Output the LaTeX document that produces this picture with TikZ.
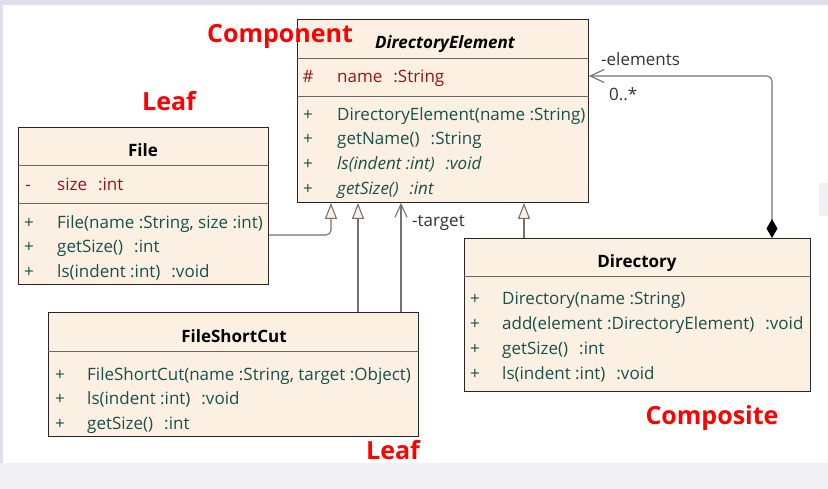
\documentclass[tikz,border=0pt]{standalone}
\usepackage{fontspec}
\setmainfont{Open Sans}
\usetikzlibrary{arrows.meta}

\definecolor{boxfill}{RGB}{251,240,226}
\definecolor{attrred}{RGB}{150,20,20}
\definecolor{methteal}{RGB}{25,80,75}
\definecolor{linegray}{RGB}{115,115,115}
\definecolor{pagelav}{RGB}{226,222,238}
\definecolor{pagegray}{RGB}{241,241,245}

\newcommand{\umlfont}{\fontsize{17}{20}\selectfont}
\newcommand{\tsep}{\hspace{11pt}}

\tikzset{
	classbox/.style={draw=black!85, fill=boxfill, line width=0.9pt, anchor=north west},
	sepline/.style={draw=black!60, line width=0.9pt},
	member/.style={anchor=west, text=methteal},
	vis/.style={text=methteal},
	role/.style={font=\fontsize{25}{30}\selectfont\bfseries, text=red, text height=18pt, text depth=0pt},
	lbl/.style={anchor=west, text=black!80},
	link/.style={draw=linegray, line width=1.1pt},
	gen/.style={link, -{Triangle[length=16pt, width=12pt, fill=boxfill]}},
	assoc/.style={link, -{Straight Barb[length=13pt, width=12pt]}},
	comp/.style={link, {Diamond[length=19pt, width=11pt, fill=black, color=black]}-{Straight Barb[length=14pt, width=13pt]}}
}

\begin{document}
\begin{tikzpicture}[x=1pt, y=-1pt, every node/.style={font=\umlfont, inner sep=0pt, text height=14pt, text depth=2pt}]
	\useasboundingbox (0,0) rectangle (828,489);
	% page
	\fill[pagelav] (0,0) rectangle (828,489);
	\fill[white] (3,5) rectangle (828,463);
	\fill[pagegray] (0,463) rectangle (828,489);
	\fill[pagegray] (819,183) rectangle (828,216);

	% DirectoryElement
	\node[classbox, minimum width=291, minimum height=183] (de) at (297,19) {};
	\draw[sepline] (de.west |- 0,58) -- (de.east |- 0,58);
	\draw[sepline] (de.west |- 0,96) -- (de.east |- 0,96);
	\node[font=\umlfont\bfseries\itshape] (de-name) at (445,43) {DirectoryElement};
	\node[vis, text=attrred] (de-avis) at (308,77) {\#};
	\node[member, text=attrred] (de-attr) at (337,77) {name\tsep:String};
	\foreach \y/\t [count=\i] in {115/{DirectoryElement(name :String)}, 139/{getName()\tsep:String}, 164/{\textit{ls(indent :int)\tsep:void}}, 189/{\textit{getSize()\tsep:int}}} {
		\node[vis] (de-vis\i) at (308,\y) {+};
		\node[member] (de-op\i) at (337,\y) {\t};
	}

	% File
	\node[classbox, minimum width=250, minimum height=157] (file) at (18,127) {};
	\draw[sepline] (file.west |- 0,165) -- (file.east |- 0,165);
	\draw[sepline] (file.west |- 0,203) -- (file.east |- 0,203);
	\node[font=\umlfont\bfseries] (file-name) at (143,151) {File};
	\node[vis, text=attrred] (file-avis) at (28,185) {-};
	\node[member, text=attrred] (file-attr) at (57,185) {size\tsep:int};
	\foreach \y/\t [count=\i] in {223/{File(name :String, size :int)}, 247/{getSize()\tsep:int}, 272/{ls(indent :int)\tsep:void}} {
		\node[vis] (file-vis\i) at (29,\y) {+};
		\node[member] (file-op\i) at (57,\y) {\t};
	}

	% FileShortCut
	\node[classbox, minimum width=370, minimum height=124] (sc) at (48,312) {};
	\draw[sepline] (sc.west |- 0,351) -- (sc.east |- 0,351);
	\node[font=\umlfont\bfseries] (sc-name) at (234,336) {FileShortCut};
	\foreach \y/\t [count=\i] in {374/{FileShortCut(name :String, target :Object)}, 398/{ls(indent :int)\tsep:void}, 423/{getSize()\tsep:int}} {
		\node[vis] (sc-vis\i) at (60,\y) {+};
		\node[member] (sc-op\i) at (87,\y) {\t};
	}

	% Directory
	\node[classbox, minimum width=346, minimum height=153] (dir) at (464,238) {};
	\draw[sepline] (dir.west |- 0,276) -- (dir.east |- 0,276);
	\node[font=\umlfont\bfseries] (dir-name) at (637,262) {Directory};
	\foreach \y/\t [count=\i] in {299/{Directory(name :String)}, 324/{add(element :DirectoryElement)\tsep:void}, 349/{getSize()\tsep:int}, 373/{ls(indent :int)\tsep:void}} {
		\node[vis] (dir-vis\i) at (475,\y) {+};
		\node[member] (dir-op\i) at (502,\y) {\t};
	}

	% relations
	\draw[gen, rounded corners=5] (file.east |- 0,235) -- (331,235) -- (331,0 |- de.south);
	\draw[gen] (358,0 |- sc.north) -- (358,0 |- de.south);
	\draw[assoc] (401,0 |- sc.north) -- (401,0 |- de.south);
	\draw[gen] (524,0 |- dir.north) -- (524,0 |- de.south);
	\draw[comp, rounded corners=5] (772,0 |- dir.north) -- (772,76) -- (de.east |- 0,76);
	\node[lbl] (lbl-target) at (412,221) {-target};
	\node[lbl] (lbl-elements) at (601,60) {-elements};
	\node[lbl] (lbl-mult) at (609,95) {0..*};

	% roles
	\node[role] (role-comp) at (280,34) {Component};
	\node[role] (role-leaf1) at (169,102) {Leaf};
	\node[role] (role-leaf2) at (393,450) {Leaf};
	\node[role] (role-composite) at (712,415) {Composite};
\end{tikzpicture}
\end{document}
